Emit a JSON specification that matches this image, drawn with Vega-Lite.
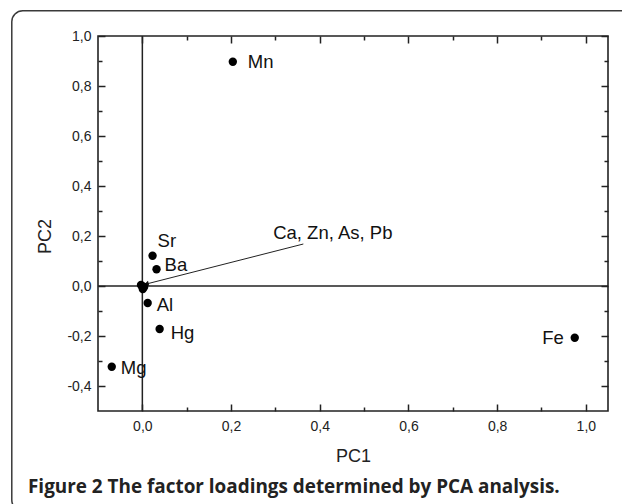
{
  "$schema": "https://vega.github.io/schema/vega-lite/v6.json",
  "width": 510,
  "height": 375,
  "autosize": {"type": "none"},
  "padding": {"left": 98, "top": 36, "right": 14, "bottom": 93},
  "background": "white",
  "config": {
    "view": {"stroke": "#222", "strokeWidth": 1.6},
    "axis": {"grid": false, "domain": false, "tickColor": "#222", "tickWidth": 1.5, "labelFont": "Liberation Sans", "labelFontSize": 14, "labelColor": "#222", "titleFont": "Liberation Sans", "titleFontSize": 18, "titleFontWeight": "normal", "titleColor": "#222"},
    "text": {"font": "Liberation Sans", "fontSize": 18.5, "color": "#111"}
  },
  "title": {"text": "Figure 2 The factor loadings determined by PCA analysis.", "orient": "bottom", "anchor": "start", "frame": "group", "font": "Open Sans", "fontSize": 18.9, "fontWeight": "bold", "color": "#222", "dx": -70, "offset": -33.5},
  "datasets": {
    "loadings": [
      {"element": "Mn", "PC1": 0.204, "PC2": 0.897},
      {"element": "Sr", "PC1": 0.023, "PC2": 0.121},
      {"element": "Ba", "PC1": 0.032, "PC2": 0.067},
      {"element": "Al", "PC1": 0.012, "PC2": -0.068},
      {"element": "Hg", "PC1": 0.039, "PC2": -0.172},
      {"element": "Mg", "PC1": -0.069, "PC2": -0.323},
      {"element": "Fe", "PC1": 0.975, "PC2": -0.207},
      {"element": "Ca", "PC1": -0.003, "PC2": 0.004},
      {"element": "Zn", "PC1": 0.001, "PC2": -0.012},
      {"element": "As", "PC1": 0.004, "PC2": -0.004},
      {"element": "Pb", "PC1": -0.001, "PC2": 0.0}
    ],
    "frame": [{"x0": -0.2944, "x1": 1.25, "y0": 1.101, "y1": -0.9}],
    "zero": [{"value": 0}],
    "arrow": [{"x0": 0.363, "y0": 0.168, "x1": 0.009, "y1": 0.008}],
    "note": [{"label": "Ca, Zn, As, Pb", "PC1": 0.295, "PC2": 0.213}]
  },
  "resolve": {"axis": {"x": "independent", "y": "independent"}},
  "layer": [
    {
      "data": {"name": "frame"},
      "mark": {"type": "rect", "fill": "white", "fillOpacity": 0, "stroke": "#3a3a3a", "strokeWidth": 1.5, "cornerRadius": 11, "clip": false},
      "encoding": {
        "x": {"field": "x0", "type": "quantitative", "scale": {"domain": [-0.1, 1.05], "nice": false, "zero": false},
              "axis": {"orient": "bottom", "values": [0, 0.2, 0.4, 0.6, 0.8, 1.0], "tickSize": -7, "labelPadding": 15, "labelExpr": "(datum.value < 0 ? '-' : '') + replace(format(abs(datum.value), '.1f'), '.', ',')", "title": "PC1", "titlePadding": 14}},
        "x2": {"field": "x1"},
        "y": {"field": "y0", "type": "quantitative", "scale": {"domain": [-0.5, 1.0], "nice": false, "zero": false},
              "axis": {"orient": "left", "values": [-0.4, -0.2, 0, 0.2, 0.4, 0.6, 0.8, 1.0], "tickSize": -7, "labelPadding": 14, "labelExpr": "(datum.value < 0 ? '-' : '') + replace(format(abs(datum.value), '.1f'), '.', ',')", "title": "PC2", "titlePadding": 12, "titleY": 200}},
        "y2": {"field": "y1"}
      }
    },
    {
      "data": {"name": "zero"},
      "mark": {"type": "rule", "stroke": "#222", "strokeWidth": 1.5},
      "encoding": {"x": {"field": "value", "type": "quantitative", "scale": {"domain": [-0.1, 1.05], "nice": false, "zero": false}, "axis": null}}
    },
    {
      "data": {"name": "zero"},
      "mark": {"type": "rule", "stroke": "#222", "strokeWidth": 1.5},
      "encoding": {"y": {"field": "value", "type": "quantitative", "scale": {"domain": [-0.5, 1.0], "nice": false, "zero": false}, "axis": null}}
    },
    {
      "data": {"name": "arrow"},
      "mark": {"type": "rule", "stroke": "#222", "strokeWidth": 1},
      "encoding": {
        "x": {"field": "x0", "type": "quantitative", "scale": {"domain": [-0.1, 1.05], "nice": false, "zero": false},
              "axis": {"orient": "bottom", "values": [0.1, 0.3, 0.5, 0.7, 0.9], "tickSize": -4, "labels": false, "title": null}},
        "x2": {"field": "x1"},
        "y": {"field": "y0", "type": "quantitative", "scale": {"domain": [-0.5, 1.0], "nice": false, "zero": false},
              "axis": {"orient": "left", "values": [-0.3, -0.1, 0.1, 0.3, 0.5, 0.7, 0.9], "tickSize": -4, "labels": false, "title": null}},
        "y2": {"field": "y1"}
      }
    },
    {
      "data": {"name": "arrow"},
      "mark": {"type": "point", "shape": "triangle-left", "filled": true, "color": "#111", "size": 30, "angle": 346, "opacity": 1},
      "encoding": {
        "x": {"field": "x1", "type": "quantitative", "scale": {"domain": [-0.1, 1.05], "nice": false, "zero": false}, "axis": null},
        "y": {"field": "y1", "type": "quantitative", "scale": {"domain": [-0.5, 1.0], "nice": false, "zero": false}, "axis": null}
      }
    },
    {
      "data": {"name": "loadings"},
      "mark": {"type": "circle", "color": "#000", "size": 70, "opacity": 1},
      "encoding": {
        "x": {"field": "PC1", "type": "quantitative", "scale": {"domain": [-0.1, 1.05], "nice": false, "zero": false},
              "axis": {"orient": "top", "values": [0, 0.2, 0.4, 0.6, 0.8, 1.0], "tickSize": -7, "labels": false, "title": null}},
        "y": {"field": "PC2", "type": "quantitative", "scale": {"domain": [-0.5, 1.0], "nice": false, "zero": false},
              "axis": {"orient": "right", "values": [-0.4, -0.2, 0, 0.2, 0.4, 0.6, 0.8, 1.0], "tickSize": -7, "labels": false, "title": null}}
      }
    },
    {
      "data": {"name": "note"},
      "mark": {"type": "text", "align": "left", "baseline": "middle"},
      "encoding": {
        "x": {"field": "PC1", "type": "quantitative", "scale": {"domain": [-0.1, 1.05], "nice": false, "zero": false},
              "axis": {"orient": "top", "values": [0.1, 0.3, 0.5, 0.7, 0.9], "tickSize": -4, "labels": false, "title": null}},
        "y": {"field": "PC2", "type": "quantitative", "scale": {"domain": [-0.5, 1.0], "nice": false, "zero": false},
              "axis": {"orient": "right", "values": [-0.3, -0.1, 0.1, 0.3, 0.5, 0.7, 0.9], "tickSize": -4, "labels": false, "title": null}},
        "text": {"field": "label"}
      }
    },
    {
      "data": {"name": "loadings"},
      "transform": [{"filter": "datum.element === 'Mn'"}],
      "mark": {"type": "text", "align": "left", "baseline": "middle", "dx": 15},
      "encoding": {
        "x": {"field": "PC1", "type": "quantitative", "scale": {"domain": [-0.1, 1.05], "nice": false, "zero": false}, "axis": null},
        "y": {"field": "PC2", "type": "quantitative", "scale": {"domain": [-0.5, 1.0], "nice": false, "zero": false}, "axis": null},
        "text": {"field": "element"}
      }
    },
    {
      "data": {"name": "loadings"},
      "transform": [{"filter": "datum.element === 'Sr'"}],
      "mark": {"type": "text", "align": "left", "baseline": "middle", "dx": 5, "dy": -15},
      "encoding": {
        "x": {"field": "PC1", "type": "quantitative", "scale": {"domain": [-0.1, 1.05], "nice": false, "zero": false}, "axis": null},
        "y": {"field": "PC2", "type": "quantitative", "scale": {"domain": [-0.5, 1.0], "nice": false, "zero": false}, "axis": null},
        "text": {"field": "element"}
      }
    },
    {
      "data": {"name": "loadings"},
      "transform": [{"filter": "datum.element === 'Ba'"}],
      "mark": {"type": "text", "align": "left", "baseline": "middle", "dx": 8, "dy": -4},
      "encoding": {
        "x": {"field": "PC1", "type": "quantitative", "scale": {"domain": [-0.1, 1.05], "nice": false, "zero": false}, "axis": null},
        "y": {"field": "PC2", "type": "quantitative", "scale": {"domain": [-0.5, 1.0], "nice": false, "zero": false}, "axis": null},
        "text": {"field": "element"}
      }
    },
    {
      "data": {"name": "loadings"},
      "transform": [{"filter": "datum.element === 'Al' || datum.element === 'Mg'"}],
      "mark": {"type": "text", "align": "left", "baseline": "middle", "dx": 9, "dy": 1.5},
      "encoding": {
        "x": {"field": "PC1", "type": "quantitative", "scale": {"domain": [-0.1, 1.05], "nice": false, "zero": false}, "axis": null},
        "y": {"field": "PC2", "type": "quantitative", "scale": {"domain": [-0.5, 1.0], "nice": false, "zero": false}, "axis": null},
        "text": {"field": "element"}
      }
    },
    {
      "data": {"name": "loadings"},
      "transform": [{"filter": "datum.element === 'Hg'"}],
      "mark": {"type": "text", "align": "left", "baseline": "middle", "dx": 11, "dy": 4},
      "encoding": {
        "x": {"field": "PC1", "type": "quantitative", "scale": {"domain": [-0.1, 1.05], "nice": false, "zero": false}, "axis": null},
        "y": {"field": "PC2", "type": "quantitative", "scale": {"domain": [-0.5, 1.0], "nice": false, "zero": false}, "axis": null},
        "text": {"field": "element"}
      }
    },
    {
      "data": {"name": "loadings"},
      "transform": [{"filter": "datum.element === 'Fe'"}],
      "mark": {"type": "text", "align": "right", "baseline": "middle", "dx": -11},
      "encoding": {
        "x": {"field": "PC1", "type": "quantitative", "scale": {"domain": [-0.1, 1.05], "nice": false, "zero": false}, "axis": null},
        "y": {"field": "PC2", "type": "quantitative", "scale": {"domain": [-0.5, 1.0], "nice": false, "zero": false}, "axis": null},
        "text": {"field": "element"}
      }
    }
  ]
}
